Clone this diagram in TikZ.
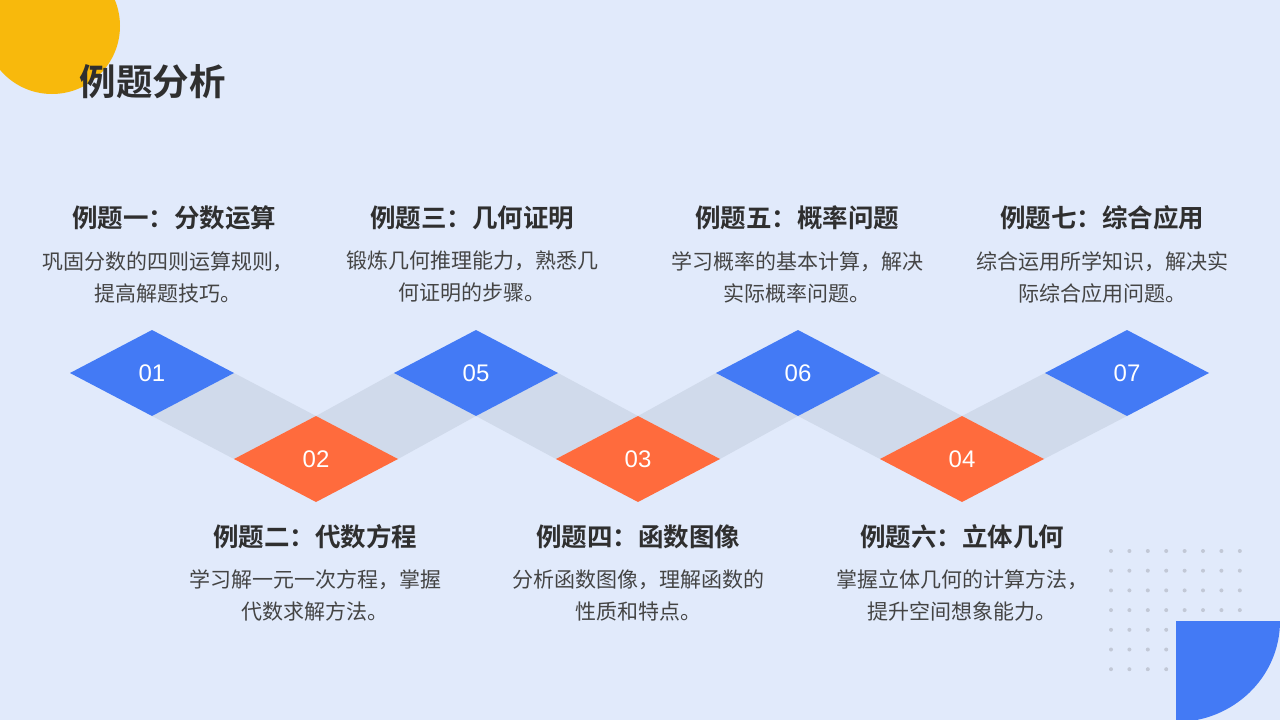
\documentclass[tikz,border=0pt]{standalone}
\usepackage{fontspec}
\setmainfont{Noto Sans CJK SC}
\newfontfamily\cjkb{Noto Sans CJK SC Bold}
\newfontfamily\numf{Liberation Sans}
\definecolor{bg}{HTML}{E1EAFB}
\definecolor{bl}{HTML}{437AF5}
\definecolor{orn}{HTML}{FF6B3D}
\definecolor{band}{HTML}{D0DAEB}
\definecolor{yel}{HTML}{F8B90C}
\definecolor{dotc}{HTML}{C2C8D6}
\definecolor{tt}{HTML}{2F2F2F}
\definecolor{dt}{HTML}{444444}
\tikzset{
 ttl/.style={font=\cjkb\fontsize{25.5}{30}\selectfont,text=tt,anchor=center},
 dsc/.style={font=\fontsize{21}{32}\selectfont,text=dt,align=center,anchor=center},
 num/.style={font=\numf\fontsize{24}{28}\selectfont,text=white}
}
\begin{document}
\begin{tikzpicture}[x=1pt,y=-1pt]
\fill[bg] (0,0) rectangle (1280,720);
\useasboundingbox (0,0) rectangle (1280,720);
\fill[yel] (52,26) circle (68);
\node[font=\cjkb\fontsize{36.5}{42}\selectfont,text=tt,anchor=west] (title) at (76,82) {例题分析};
% dots
\foreach \i in {0,...,7}{\foreach \j in {0,...,6}{
  \fill[dotc] ({1111+\i*18.4},{551+\j*19.7}) circle (2);}}
\fill[bl] (1176,621) -- (1280,621) to[out=-90,in=0] (1176,722) -- cycle;
% bands
\def\hw{82}\def\hh{43}
\foreach \a/\b [count=\k] in {152/316,316/476,476/638,638/798,798/962,962/1127}{
  \pgfmathtruncatemacro\m{mod(\k,2)}
  \ifnum\m=1
   \fill[band] (\a+\hw,373) -- (\a,416) -- (\b-\hw,459) -- (\b,416) -- cycle;
  \else
   \fill[band] (\a,416) -- (\a+\hw,459) -- (\b,416) -- (\b-\hw,373) -- cycle;
  \fi}
\foreach \x/\y/\c/\t in {152/373/bl/01,316/459/orn/02,476/373/bl/05,638/459/orn/03,798/373/bl/06,962/459/orn/04,1127/373/bl/07}{
  \fill[\c] (\x-\hw,\y) -- (\x,\y-\hh) -- (\x+\hw,\y) -- (\x,\y+\hh) -- cycle;
  \node[num] (n\t) at (\x,\y) {\t};}
% texts
\node[ttl] (t1) at (174,218) {例题一：分数运算};
\node[dsc] (d1) at (168,277) {巩固分数的四则运算规则，\\提高解题技巧。};
\node[ttl] (t3) at (472,218) {例题三：几何证明};
\node[dsc] (d3) at (472,277) {锻炼几何推理能力，熟悉几\\何证明的步骤。};
\node[ttl] (t5) at (797,218) {例题五：概率问题};
\node[dsc] (d5) at (797,277) {学习概率的基本计算，解决\\实际概率问题。};
\node[ttl] (t7) at (1102,218) {例题七：综合应用};
\node[dsc] (d7) at (1102,277) {综合运用所学知识，解决实\\际综合应用问题。};
\node[ttl] (t2) at (315,537) {例题二：代数方程};
\node[dsc] (d2) at (315,595) {学习解一元一次方程，掌握\\代数求解方法。};
\node[ttl] (t4) at (638,537) {例题四：函数图像};
\node[dsc] (d4) at (638,595) {分析函数图像，理解函数的\\性质和特点。};
\node[ttl] (t6) at (962,537) {例题六：立体几何};
\node[dsc] (d6) at (962,595) {掌握立体几何的计算方法，\\提升空间想象能力。};
\end{tikzpicture}
\end{document}
